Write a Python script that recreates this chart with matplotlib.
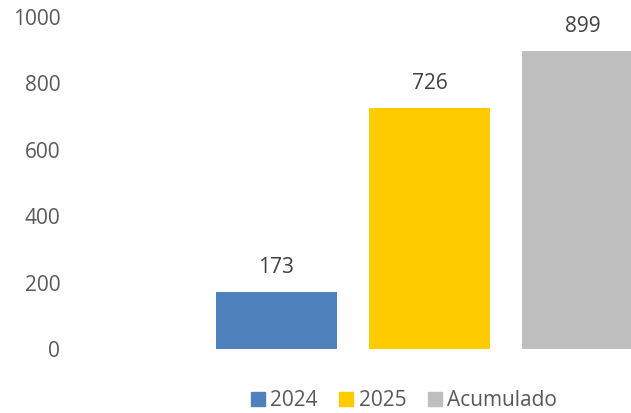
import matplotlib
matplotlib.use("Agg")
import matplotlib.pyplot as plt
from matplotlib.patches import Patch

series = ["2024", "2025", "Acumulado"]
values = [173, 726, 899]
colors = ["#4F81BD", "#FFCC00", "#BFBFBF"]
yticks = [0, 200, 400, 600, 800, 1000]

plt.rcParams['font.family'] = ['Open Sans', 'DejaVu Sans']

fig = plt.figure(figsize=(6.31, 4.13), dpi=100)
ax = fig.add_axes([70/631, 64/413, 561/631, 332/413])

pos = list(range(len(values)))
bars = ax.bar(pos, values, width=121/153, color=colors, clip_on=True)
for p, v in zip(pos, values):
    ax.annotate(str(v), (p, v), xytext=(0, 10), textcoords="offset points",
                ha="center", va="bottom", fontsize=15, color="#404040")

ax.set_xlim((70 - 276.5) / 153, (631 - 276.5) / 153)
ax.set_ylim(0, 1000)
ax.set_yticks(yticks)
ax.set_yticklabels([str(t) for t in yticks], fontsize=15, color="#595959")
ax.set_xticks([])
ax.tick_params(axis="y", length=0, pad=7)
for s in ax.spines.values():
    s.set_visible(False)

handles = [Patch(color=c, label=l) for c, l in zip(colors, series)]
fig.legend(handles=handles, loc="center", bbox_to_anchor=(404/631, 1 - 401/413),
           ncol=3, frameon=False, fontsize=15, handlelength=0.67, handleheight=0.67,
           handletextpad=0.25, columnspacing=1.05, labelcolor="#595959")

fig.savefig("out.png", dpi=100)
